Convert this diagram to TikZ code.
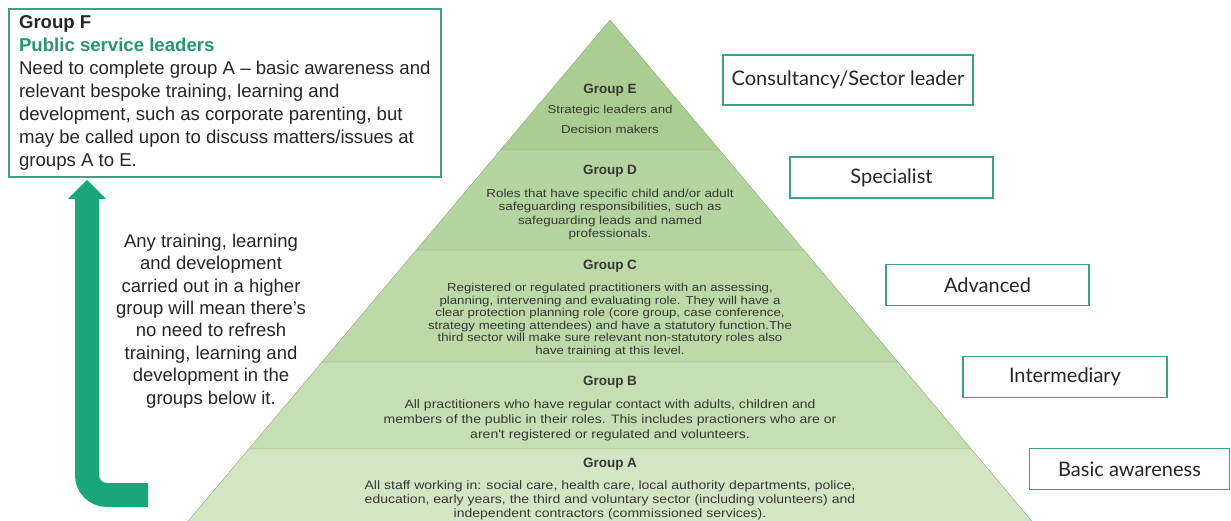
\documentclass[tikz,border=0pt]{standalone}
\usepackage{fontspec}
\setmainfont{Liberation Sans}
\newfontfamily\levelfont{Lato}
\newfontfamily\bandfont[FakeStretch=1.15]{Liberation Sans}
\usetikzlibrary{positioning}

\definecolor{tealline}{RGB}{62,160,132}
\definecolor{tealtext}{RGB}{36,150,112}
\definecolor{arrowgreen}{RGB}{26,166,123}
\definecolor{bandE}{RGB}{170,205,146}
\definecolor{bandD}{RGB}{181,213,160}
\definecolor{bandC}{RGB}{188,217,167}
\definecolor{bandB}{RGB}{197,222,178}
\definecolor{bandA}{RGB}{211,230,196}
\definecolor{bandline}{RGB}{138,168,122}
\definecolor{bodygray}{RGB}{55,55,55}

\begin{document}
\begin{tikzpicture}[x=1pt,y=-1pt,
  levelbox/.style={draw=tealline, line width=1.6pt, fill=white, inner sep=0pt,
    minimum height=41pt, font=\levelfont\fontsize{20}{22}\selectfont, text=black!85},
  grouptext/.style={align=center, inner sep=0pt, anchor=north, text=bodygray}]
\useasboundingbox (0,0) rectangle (1231,521);

% pyramid bands, top to bottom
\filldraw[fill=bandE, draw=bandline] (610,20) -- (719.5,150) -- (500.5,150) -- cycle;
\filldraw[fill=bandD, draw=bandline] (500.5,150) -- (719.5,150) -- (803.7,250) -- (416.3,250) -- cycle;
\filldraw[fill=bandC, draw=bandline] (416.3,250) -- (803.7,250) -- (898,362) -- (322,362) -- cycle;
\filldraw[fill=bandB, draw=bandline] (322,362) -- (898,362) -- (971.2,449) -- (248.8,449) -- cycle;
\filldraw[fill=bandA, draw=bandline] (248.8,449) -- (971.2,449) -- (1039.4,530) -- (180.6,530) -- cycle;

\node[grouptext, font=\bandfont\fontsize{11.5}{20}\selectfont] (grpE) at (610,84)
  {{\normalfont\bfseries\fontsize{13.5}{14}\selectfont Group E}\\Strategic leaders and\\Decision makers};
\node[grouptext, font=\bandfont\fontsize{11.65}{13.3}\selectfont] (grpD) at (610,165)
  {{\normalfont\bfseries\fontsize{13.5}{14}\selectfont Group D}\\[9.7pt]Roles that have specific child and/or adult\\
   safeguarding responsibilities, such as\\safeguarding leads and named\\professionals.};
\node[grouptext, font=\bandfont\fontsize{11.5}{12.5}\selectfont] (grpC) at (610,260)
  {{\normalfont\bfseries\fontsize{13.5}{14}\selectfont Group C}\\[9.5pt]Registered or regulated practitioners with an assessing,\\
   planning, intervening and evaluating role. They will have a\\
   clear protection planning role (core group, case conference,\\
   strategy meeting attendees) and have a statutory function.The\\
   third sector will make sure relevant non-statutory roles also\\
   have training at this level.};
\node[grouptext, font=\bandfont\fontsize{12.2}{15}\selectfont] (grpB) at (610,376)
  {{\normalfont\bfseries\fontsize{13.5}{14}\selectfont Group B}\\[7.5pt]All practitioners who have regular contact with adults, children and\\
   members of the public in their roles. This includes practioners who are or\\
   aren't registered or regulated and volunteers.};
\node[grouptext, font=\bandfont\fontsize{12.2}{14}\selectfont] (grpA) at (610,458)
  {{\normalfont\bfseries\fontsize{13.5}{14}\selectfont Group A}\\[8pt]All staff working in: social care, health care, local authority departments, police,\\
   education, early years, the third and voluntary sector (including volunteers) and\\
   independent contractors (commissioned services).};

% level boxes on the right
\node[levelbox, minimum width=250pt, minimum height=50pt] (consult) at (848,80) {Consultancy/Sector leader};
\node[levelbox, minimum width=203pt] (special) at (891.5,177.5) {Specialist};
\node[levelbox, minimum width=203pt] (advanced) at (987.5,285) {Advanced};
\node[levelbox, minimum width=204pt] (intermed) at (1065,377) {Intermediary};
\node[levelbox, minimum width=200pt] (basic) at (1129.5,469) {Basic awareness};

% group F box
\node[draw=tealline, line width=1.6pt, fill=white, anchor=north west, align=left,
  minimum width=432pt, minimum height=168pt, inner sep=0pt,
  font=\fontsize{18.6}{23}\selectfont, text=black!85] (groupF) at (8,8)
  {\textbf{Group F}\\\textcolor{tealtext}{\textbf{Public service leaders}}\\
   Need to complete group A -- basic awareness and\\relevant bespoke training, learning and\\
   development, such as corporate parenting, but\\may be called upon to discuss matters/issues at\\groups A to E.};

% upward arrow and its note
\coordinate (arrowfoot) at (148,495);
\coordinate (arrowbend) at (87,495);
\coordinate (arrowneck) at (87,199);
\coordinate (arrowtip) at (87,180);
\draw[arrowgreen, line width=24pt, rounded corners=20pt] (arrowfoot) -- (arrowbend) -- (arrowneck);
\fill[arrowgreen] (arrowtip) -- ([xshift=19pt]arrowneck) -- ([xshift=-19pt]arrowneck) -- cycle;

\node[align=center, font=\fontsize{18.5}{22.4}\selectfont, text=black!85] (carry) at (211,321)
  {Any training, learning\\and development\\carried out in a higher\\group will mean there's\\
   no need to refresh\\training, learning and\\development in the\\groups below it.};
\end{tikzpicture}
\end{document}
